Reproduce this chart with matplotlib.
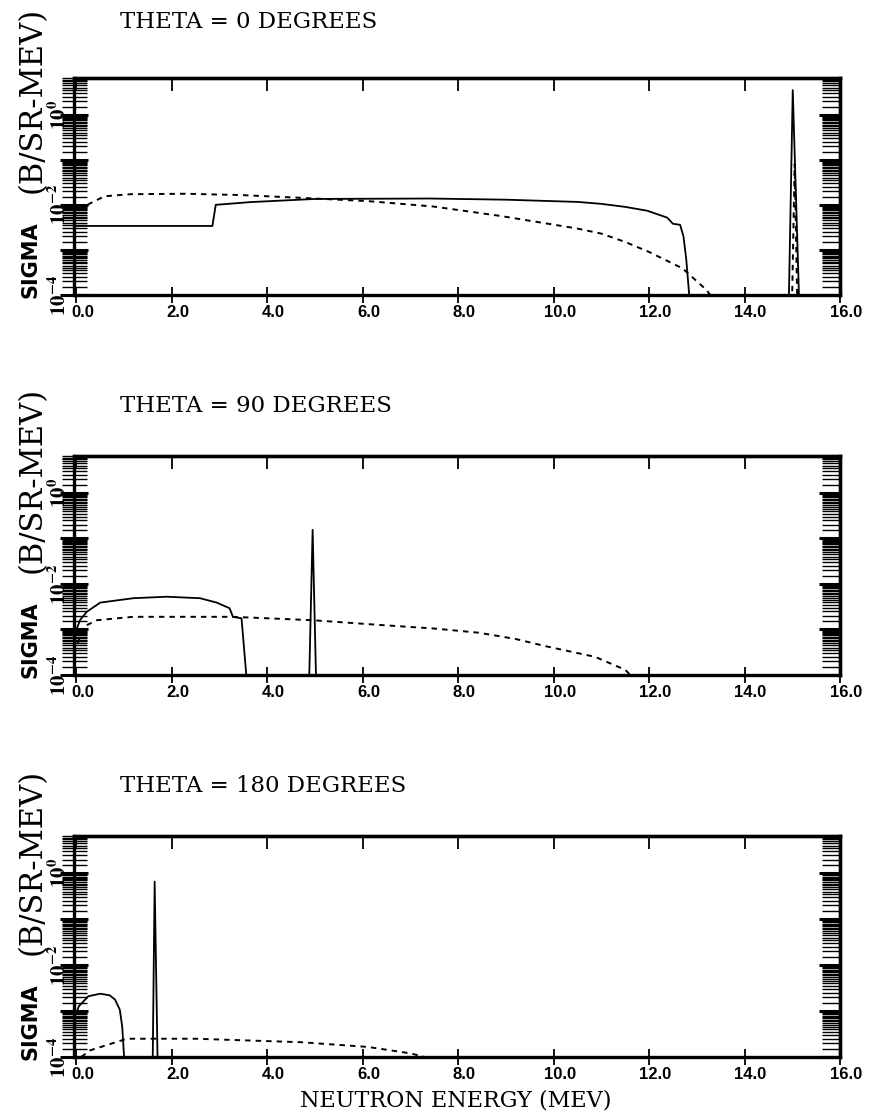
import numpy as np
import matplotlib
matplotlib.use('Agg')
import matplotlib.pyplot as plt
from matplotlib.ticker import FixedLocator, LogLocator, NullFormatter, NullLocator
from matplotlib.transforms import ScaledTranslation

plt.rcParams['mathtext.fontset'] = 'stix'

W, H = 871, 1112

titles = ['THETA = 0 DEGREES', 'THETA = 90 DEGREES', 'THETA = 180 DEGREES']

# theta = 0
e_sol_0 = [0.0, 2.85, 2.92, 3.65, 5.0, 7.4, 9.0, 10.5, 11.0, 11.5, 11.96, 12.38,
           12.5, 12.65, 12.72, 12.78, 12.84, 14.93, 15.01, 15.14, 16.0]
s_sol_0 = [3.4e-3, 3.4e-3, 1.0e-2, 1.15e-2, 1.35e-2, 1.38e-2, 1.3e-2, 1.16e-2, 1.05e-2,
           9.0e-3, 7.4e-3, 5.2e-3, 3.8e-3, 3.6e-3, 2.0e-3, 6e-4, 1e-4, 1e-4, 3.5, 1e-4, 1e-4]
e_dsh_0 = [0.05, 0.29, 0.59, 1.13, 2.28, 3.43, 4.58, 5.3, 6.1, 7.47, 8.87, 10.48, 11.0,
           11.5, 12.0, 12.7, 13.2, 13.35, 14.98, 15.05, 15.12, 16.0]
s_dsh_0 = [7.5e-3, 1.08e-2, 1.55e-2, 1.72e-2, 1.76e-2, 1.65e-2, 1.45e-2, 1.33e-2, 1.21e-2,
           9.2e-3, 5.7e-3, 3.0e-3, 2.3e-3, 1.5e-3, 9e-4, 3.9e-4, 1.3e-4, 8e-5, 1e-5,
           8e-2, 1e-5, 1e-5]

# theta = 90
e_sol_90 = [0.0, 0.08, 0.22, 0.5, 1.19, 1.89, 2.59, 2.94, 3.21, 3.28, 3.46, 3.56,
            4.88, 4.95, 5.02, 16.0]
s_sol_90 = [1.0e-3, 1.63e-3, 2.46e-3, 3.9e-3, 4.87e-3, 5.25e-3, 4.87e-3, 3.9e-3, 2.93e-3,
            1.9e-3, 1.76e-3, 1e-4, 1e-4, 0.155, 1e-4, 1e-4]
e_dsh_90 = [0.03, 0.15, 0.43, 1.19, 3.28, 4.95, 6.35, 7.5, 8.43, 9.2, 9.83, 10.87, 11.5, 11.65]
s_dsh_90 = [5e-4, 1.15e-3, 1.6e-3, 1.9e-3, 1.9e-3, 1.6e-3, 1.26e-3, 1.05e-3, 8.5e-4,
            6.2e-4, 4.3e-4, 2.5e-4, 1.3e-4, 9e-5]

# theta = 180
e_sol_180 = [0.0, 0.05, 0.25, 0.5, 0.7, 0.81, 0.91, 0.96, 1.0, 1.6, 1.64, 1.7, 16.0]
s_sol_180 = [9e-4, 1.27e-3, 2.1e-3, 2.39e-3, 2.2e-3, 1.78e-3, 1.07e-3, 4.6e-4, 1e-4,
             1e-4, 0.66, 1e-4, 1e-4]
e_dsh_180 = [0.1, 0.29, 1.06, 2.5, 4.7, 6.1, 7.0, 7.3]
s_dsh_180 = [1e-4, 1.4e-4, 2.5e-4, 2.5e-4, 2.1e-4, 1.66e-4, 1.2e-4, 1e-4]

solid = [(e_sol_0, s_sol_0), (e_sol_90, s_sol_90), (e_sol_180, s_sol_180)]
dashed = [(e_dsh_0, s_dsh_0), (e_dsh_90, s_dsh_90), (e_dsh_180, s_dsh_180)]

x_ticks = np.arange(0, 17, 2)
y_major = [1e-4, 1e-3, 1e-2, 1e-1, 1e0]
y_labels = [r'$\mathbf{10^{-4}}$', '', r'$\mathbf{10^{-2}}$', '', r'$\mathbf{10^{0}}$']

# pixel boxes of the three panels (top, bottom)
panels = [(78, 295), (456, 675), (836, 1057)]
title_base = [28, 412, 792]
left_px, right_px = 74, 840

fig = plt.figure(figsize=(W / 100, H / 100), dpi=100)

for i in range(3):
    top, bot = panels[i]
    ax = fig.add_axes([left_px / W, 1 - bot / H, (right_px - left_px) / W, (bot - top) / H])
    ax.set_yscale('log')
    ax.set_xlim(-0.05, 16.0)
    ax.set_ylim(1e-4, 6.5)

    ax.plot(solid[i][0], solid[i][1], color='black', lw=1.3)
    ax.plot(dashed[i][0], dashed[i][1], color='black', lw=1.4, ls=(0, (2.8, 2.6)))

    for sp in ax.spines.values():
        sp.set_linewidth(2.4)

    ax.xaxis.set_major_locator(FixedLocator(x_ticks))
    ax.xaxis.set_minor_locator(NullLocator())
    ax.set_xticklabels(['%.1f' % v for v in x_ticks], fontfamily='Liberation Sans',
                       fontweight='bold', fontsize=12)
    ax.tick_params(axis='x', which='major', direction='inout', length=11, width=1.3, pad=2)
    for lab in ax.get_xticklabels():
        lab.set_transform(lab.get_transform() + ScaledTranslation(0.06, 0, fig.dpi_scale_trans))

    ax.yaxis.set_major_locator(FixedLocator(y_major))
    ax.yaxis.set_minor_locator(LogLocator(base=10, subs=np.arange(1.5, 10, 0.5), numticks=50))
    ax.yaxis.set_minor_formatter(NullFormatter())
    ax.set_yticklabels(y_labels, fontsize=15)
    ax.tick_params(axis='y', which='major', direction='inout', length=20, width=2.2,
                   pad=-7, labelrotation=90)
    ax.tick_params(axis='y', which='minor', direction='inout', length=18, width=1.0)
    for lab in ax.get_yticklabels():
        lab.set_va('center')

    # top and right ticks point inward only
    sx = ax.secondary_xaxis('top')
    sx.xaxis.set_major_locator(FixedLocator(x_ticks))
    sx.tick_params(direction='in', length=9, width=1.3, labeltop=False)
    sx.spines['top'].set_linewidth(2.4)
    sy = ax.secondary_yaxis('right')
    sy.yaxis.set_major_locator(FixedLocator(y_major))
    sy.yaxis.set_minor_locator(LogLocator(base=10, subs=np.arange(1.5, 10, 0.5), numticks=50))
    sy.yaxis.set_minor_formatter(NullFormatter())
    sy.tick_params(which='major', direction='in', length=15, width=2.2, labelright=False)
    sy.tick_params(which='minor', direction='in', length=13, width=1.0, labelright=False)
    sy.spines['right'].set_linewidth(2.4)

    fig.text(120 / W, 1 - title_base[i] / H, titles[i], fontfamily='DejaVu Serif',
             fontsize=16.5, ha='left', va='baseline')

    # y axis label in two fonts
    fig.text(30 / W, 1 - (bot + 3) / H, 'SIGMA', fontfamily='DejaVu Sans',
             fontweight='bold', fontsize=15, rotation=90, ha='center', va='bottom')
    fig.text(32 / W, 1 - (bot - 102) / H, '(B/SR-MEV)', fontfamily='DejaVu Serif',
             fontsize=22, rotation=90, ha='center', va='bottom')

fig.text(456 / W, 1 - 1106 / H, 'NEUTRON ENERGY (MEV)', fontfamily='DejaVu Serif',
         fontsize=16, ha='center', va='baseline')

fig.savefig('out.png', dpi=100)
